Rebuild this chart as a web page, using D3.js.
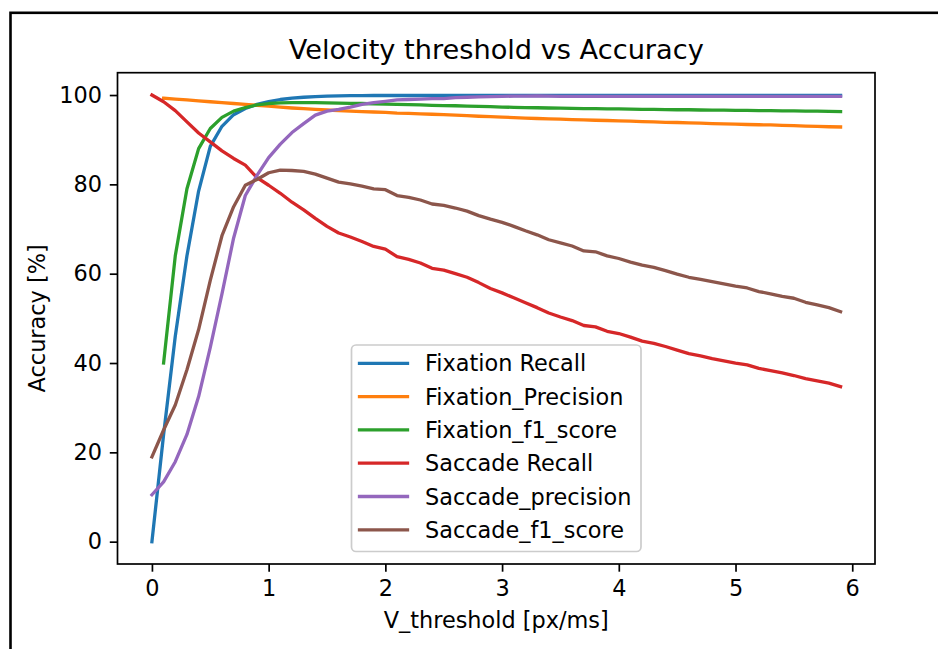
<!DOCTYPE html>
<html>
<head>
<meta charset="utf-8">
<script src="https://cdn.jsdelivr.net/npm/d3@7"></script>
<style>
  html, body { margin: 0; padding: 0; background: #fff; }
  svg { display: block; font-family: "DejaVu Sans", sans-serif; }
</style>
</head>
<body>
<svg id="chart" width="938" height="649"></svg>
<script>
// Velocity threshold (px/ms) on the x axis
const thresholds = [0.0, 0.1, 0.2, 0.3, 0.4, 0.5, 0.6, 0.7, 0.8, 0.9,
  1.0, 1.1, 1.2, 1.3, 1.4, 1.5, 1.6, 1.7, 1.8, 1.9,
  2.0, 2.1, 2.2, 2.3, 2.4, 2.5, 2.6, 2.7, 2.8, 2.9,
  3.0, 3.1, 3.2, 3.3, 3.4, 3.5, 3.6, 3.7, 3.8, 3.9,
  4.0, 4.1, 4.2, 4.3, 4.4, 4.5, 4.6, 4.7, 4.8, 4.9,
  5.0, 5.1, 5.2, 5.3, 5.4, 5.5, 5.6, 5.7, 5.8, 5.9];

const fixationRecall = [0, 24, 46, 64, 78.5, 88.5, 93, 95.6, 97.0, 97.9,
  98.5, 99.0, 99.3, 99.5, 99.65, 99.75, 99.8, 99.85, 99.88, 99.9,
  99.9, 99.9, 99.9, 99.9, 99.9, 99.9, 99.9, 99.9, 99.9, 99.9,
  99.9, 99.9, 99.9, 99.9, 99.9, 99.9, 99.9, 99.9, 99.9, 99.9,
  99.9, 99.9, 99.9, 99.9, 99.9, 99.9, 99.9, 99.9, 99.9, 99.9,
  99.9, 99.9, 99.9, 99.9, 99.9, 99.9, 99.9, 99.9, 99.9, 99.9];

const fixationPrecision = [null, 99.3, 99.1, 98.9, 98.7, 98.5, 98.3, 98.1, 97.9, 97.7,
  97.5, 97.3, 97.1, 96.95, 96.8, 96.65, 96.5, 96.4, 96.3, 96.2,
  96.1, 95.95, 95.9, 95.8, 95.7, 95.6, 95.5, 95.4, 95.25, 95.15,
  95.05, 94.95, 94.85, 94.75, 94.65, 94.6, 94.5, 94.45, 94.35, 94.3,
  94.2, 94.15, 94.05, 94.0, 93.9, 93.85, 93.75, 93.7, 93.6, 93.55,
  93.5, 93.4, 93.35, 93.3, 93.2, 93.15, 93.05, 93.0, 92.9, 92.85];

const fixationF1 = [null, 40, 64, 79, 88, 92.5, 95, 96.4, 97.2, 97.8,
  98.1, 98.25, 98.3, 98.3, 98.3, 98.25, 98.2, 98.15, 98.1, 98.0,
  97.95, 97.9, 97.85, 97.8, 97.7, 97.65, 97.6, 97.5, 97.45, 97.4,
  97.3, 97.25, 97.2, 97.15, 97.1, 97.05, 97.0, 96.95, 96.95, 96.9,
  96.9, 96.85, 96.8, 96.8, 96.75, 96.7, 96.7, 96.65, 96.6, 96.6,
  96.55, 96.55, 96.5, 96.5, 96.45, 96.45, 96.4, 96.4, 96.35, 96.3];

const saccadeRecall = [100, 98.5, 96.5, 94, 91.5, 89.5, 87.5, 85.8, 84.3, 81.5,
  79.8, 78, 76, 74.3, 72.4, 70.6, 69.1, 68.2, 67.2, 66.1,
  65.5, 63.8, 63.2, 62.4, 61.2, 60.8, 60, 59.2, 58, 56.7,
  55.7, 54.6, 53.5, 52.4, 51.2, 50.3, 49.5, 48.4, 48.1, 47.1,
  46.6, 45.8, 44.9, 44.4, 43.7, 42.9, 42.1, 41.6, 41.0, 40.5,
  40.0, 39.6, 38.8, 38.3, 37.8, 37.2, 36.5, 36.0, 35.5, 34.7];

const saccadePrecision = [10.5, 13.4, 17.9, 24, 32.5, 43.5, 55.5, 68, 77.5, 82,
  86, 89, 91.6, 93.6, 95.5, 96.4, 96.8, 97.3, 97.9, 98.3,
  98.6, 98.9, 99.0, 99.1, 99.2, 99.2, 99.4, 99.5, 99.6, 99.65,
  99.7, 99.75, 99.75, 99.8, 99.75, 99.7, 99.7, 99.7, 99.7, 99.7,
  99.7, 99.7, 99.7, 99.7, 99.7, 99.7, 99.7, 99.7, 99.7, 99.7,
  99.7, 99.7, 99.7, 99.7, 99.7, 99.7, 99.7, 99.7, 99.7, 99.7];

const saccadeF1 = [19, 25, 30.6, 38.5, 47.5, 58.5, 68.5, 75, 79.8, 81.1,
  82.6, 83.2, 83.1, 82.9, 82.3, 81.4, 80.5, 80.1, 79.6, 79.0,
  78.8, 77.5, 77.1, 76.5, 75.6, 75.3, 74.7, 74.0, 73.0, 72.2,
  71.5, 70.6, 69.6, 68.7, 67.6, 66.9, 66.2, 65.1, 64.9, 64.0,
  63.4, 62.6, 61.9, 61.4, 60.7, 59.9, 59.2, 58.7, 58.2, 57.7,
  57.2, 56.8, 56.0, 55.5, 54.9, 54.5, 53.6, 53.0, 52.4, 51.5];

const seriesNames = ["Fixation Recall", "Fixation_Precision", "Fixation_f1_score",
  "Saccade Recall", "Saccade_precision", "Saccade_f1_score"];
const seriesColors = ["#1f77b4", "#ff7f0e", "#2ca02c", "#d62728", "#9467bd", "#8c564b"];
const seriesValues = [fixationRecall, fixationPrecision, fixationF1,
  saccadeRecall, saccadePrecision, saccadeF1];

const xTicks = [0, 1, 2, 3, 4, 5, 6];
const yTicks = [0, 20, 40, 60, 80, 100];

const titleText = "Velocity threshold vs Accuracy";
const xLabel = "V_threshold [px/ms]";
const yLabel = "Accuracy [%]";

// ---- layout ----
const plot = { left: 117.5, right: 875, top: 72.7, bottom: 564 };
const fs = 22.4;          // tick / label / legend font size
const tickLen = 7.7, tickPad = 7.7;

const svg = d3.select("#chart");

// outer frame (left and top edges)
svg.append("rect")
  .attr("x", 10.5).attr("y", 12.8)
  .attr("width", 1200).attr("height", 1200)
  .attr("fill", "none").attr("stroke", "#000").attr("stroke-width", 2.6);

const xExtent = [0, 5.9];
const xPad = (xExtent[1] - xExtent[0]) * 0.05;
const x = d3.scaleLinear()
  .domain([xExtent[0] - xPad, xExtent[1] + xPad])
  .range([plot.left, plot.right]);
const y = d3.scaleLinear()
  .domain([-5, 105])
  .range([plot.bottom, plot.top]);

// axes
const xAxis = svg.append("g")
  .attr("transform", `translate(0,${plot.bottom})`)
  .call(d3.axisBottom(x).tickValues(xTicks).tickFormat(d3.format("d"))
    .tickSize(tickLen).tickPadding(tickPad));
const yAxis = svg.append("g")
  .attr("transform", `translate(${plot.left},0)`)
  .call(d3.axisLeft(y).tickValues(yTicks).tickFormat(d3.format("d"))
    .tickSize(tickLen).tickPadding(tickPad));

[xAxis, yAxis].forEach(g => {
  g.select(".domain").remove();
  g.selectAll(".tick line").attr("stroke", "#000").attr("stroke-width", 1.7);
  g.selectAll(".tick text")
    .attr("fill", "#000")
    .style("font-size", fs + "px")
    .style("font-family", "DejaVu Sans");
});
xAxis.selectAll(".tick text").attr("dy", "0.76em");

// lines
const line = d3.line()
  .defined(d => d[1] != null)
  .x(d => x(d[0]))
  .y(d => y(d[1]));

svg.append("clipPath").attr("id", "plot-clip")
  .append("rect")
  .attr("x", plot.left).attr("y", plot.top)
  .attr("width", plot.right - plot.left).attr("height", plot.bottom - plot.top);

const linesG = svg.append("g").attr("clip-path", "url(#plot-clip)");
seriesValues.forEach((vals, i) => {
  linesG.append("path")
    .datum(thresholds.map((t, j) => [t, vals[j]]))
    .attr("d", line)
    .attr("fill", "none")
    .attr("stroke", seriesColors[i])
    .attr("stroke-width", 3.3)
    .attr("stroke-linejoin", "round")
    .attr("stroke-linecap", "square");
});

// spines
svg.append("rect")
  .attr("x", plot.left).attr("y", plot.top)
  .attr("width", plot.right - plot.left).attr("height", plot.bottom - plot.top)
  .attr("fill", "none").attr("stroke", "#000").attr("stroke-width", 1.7);

// title and axis labels
svg.append("text")
  .attr("x", (plot.left + plot.right) / 2).attr("y", 58.5)
  .attr("text-anchor", "middle")
  .style("font-size", "27.2px")
  .text(titleText);

svg.append("text")
  .attr("x", (plot.left + plot.right) / 2).attr("y", 627.5)
  .attr("text-anchor", "middle")
  .style("font-size", fs + "px")
  .text(xLabel);

svg.append("text")
  .attr("transform", `translate(44.5,${(plot.top + plot.bottom) / 2}) rotate(-90)`)
  .attr("text-anchor", "middle")
  .style("font-size", fs + "px")
  .text(yLabel);

// legend
const legend = { x: 351.5, y: 345, w: 289.5, h: 206.5, row0: 363.3, rowStep: 33.3 };
svg.append("rect")
  .attr("x", legend.x).attr("y", legend.y)
  .attr("width", legend.w).attr("height", legend.h)
  .attr("rx", 4.5).attr("ry", 4.5)
  .attr("fill", "#fff").attr("fill-opacity", 0.8)
  .attr("stroke", "#cccccc").attr("stroke-width", 1.7);

const items = svg.append("g").selectAll("g")
  .data(seriesNames)
  .join("g")
  .attr("transform", (d, i) => `translate(0,${legend.row0 + i * legend.rowStep})`);
items.append("line")
  .attr("x1", 359.5).attr("x2", 407.5)
  .attr("stroke", (d, i) => seriesColors[i])
  .attr("stroke-width", 3.3)
  .attr("stroke-linecap", "square");
items.append("text")
  .attr("x", 425).attr("dy", "0.36em")
  .style("font-size", fs + "px")
  .text(d => d);
</script>
</body>
</html>
